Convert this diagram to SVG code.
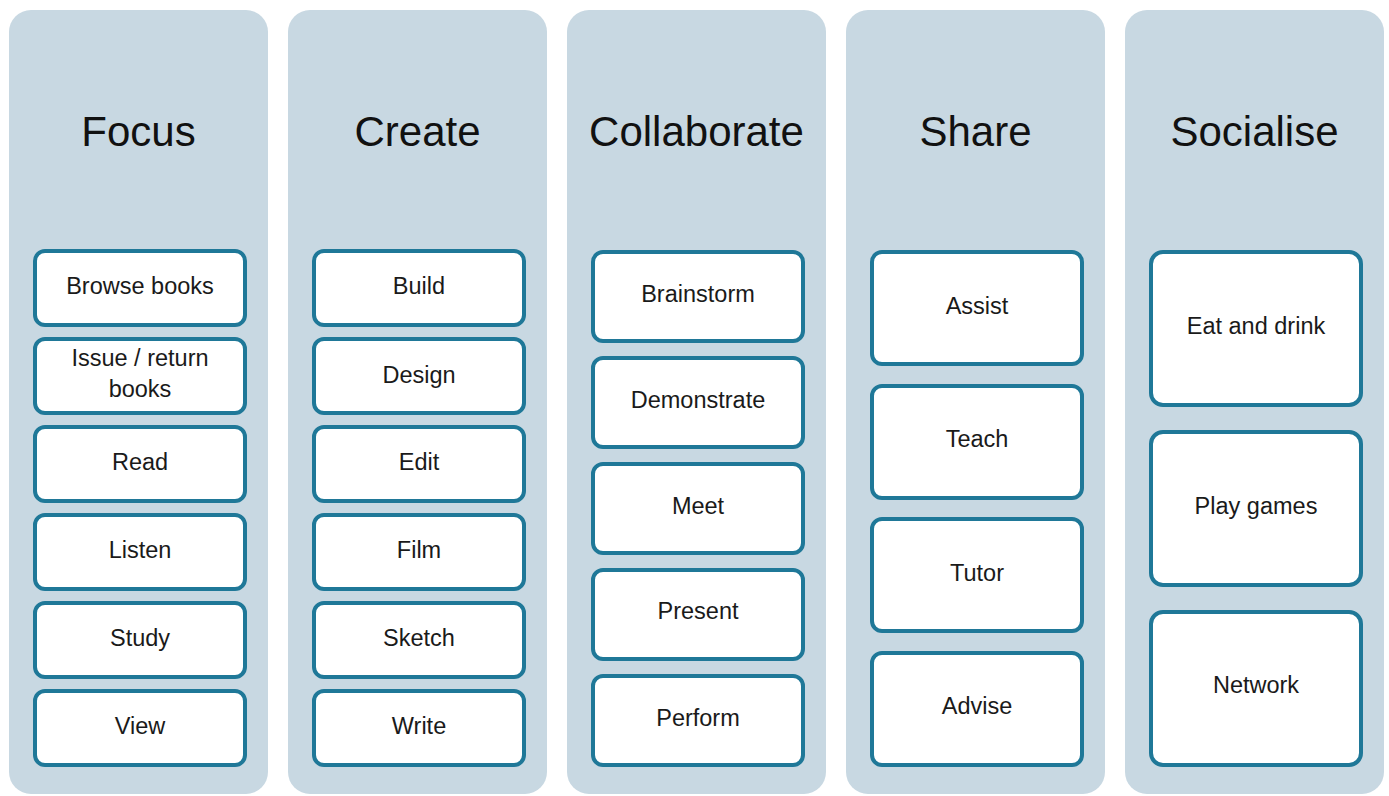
<svg xmlns="http://www.w3.org/2000/svg" width="1389" height="796" viewBox="0 0 1389 796">
<style>
.panel{fill:#c8d8e2}
.box{fill:#ffffff;stroke:#1f7898;stroke-width:4}
.h{font-family:"Liberation Sans",Arial,sans-serif;font-size:42px;fill:#111;text-anchor:middle}
.t{font-family:"Liberation Sans",Arial,sans-serif;font-size:23.5px;fill:#1a1a1a;text-anchor:middle}
</style>
<rect width="1389" height="796" fill="#ffffff"/>
<g id="col-focus">
<rect class="panel" x="9" y="10" width="259" height="784" rx="22"/>
<text class="h" x="138.5" y="146">Focus</text>
<g id="n-browse"><rect class="box" x="35" y="251" width="210" height="74" rx="10"/><text class="t" x="140" y="294">Browse books</text></g>
<g id="n-issue"><rect class="box" x="35" y="339" width="210" height="74" rx="10"/><text class="t" x="140" y="366">Issue / return</text><text class="t" x="140" y="397">books</text></g>
<g id="n-read"><rect class="box" x="35" y="427" width="210" height="74" rx="10"/><text class="t" x="140" y="470">Read</text></g>
<g id="n-listen"><rect class="box" x="35" y="515" width="210" height="74" rx="10"/><text class="t" x="140" y="558">Listen</text></g>
<g id="n-study"><rect class="box" x="35" y="603" width="210" height="74" rx="10"/><text class="t" x="140" y="646">Study</text></g>
<g id="n-view"><rect class="box" x="35" y="691" width="210" height="74" rx="10"/><text class="t" x="140" y="734">View</text></g>
</g>
<g id="col-create">
<rect class="panel" x="288" y="10" width="259" height="784" rx="22"/>
<text class="h" x="417.5" y="146">Create</text>
<g id="n-build"><rect class="box" x="314" y="251" width="210" height="74" rx="10"/><text class="t" x="419" y="294">Build</text></g>
<g id="n-design"><rect class="box" x="314" y="339" width="210" height="74" rx="10"/><text class="t" x="419" y="383">Design</text></g>
<g id="n-edit"><rect class="box" x="314" y="427" width="210" height="74" rx="10"/><text class="t" x="419" y="470">Edit</text></g>
<g id="n-film"><rect class="box" x="314" y="515" width="210" height="74" rx="10"/><text class="t" x="419" y="558">Film</text></g>
<g id="n-sketch"><rect class="box" x="314" y="603" width="210" height="74" rx="10"/><text class="t" x="419" y="646">Sketch</text></g>
<g id="n-write"><rect class="box" x="314" y="691" width="210" height="74" rx="10"/><text class="t" x="419" y="734">Write</text></g>
</g>
<g id="col-collaborate">
<rect class="panel" x="567" y="10" width="259" height="784" rx="22"/>
<text class="h" x="696.5" y="146">Collaborate</text>
<g id="n-brainstorm"><rect class="box" x="593" y="252" width="210" height="89" rx="10"/><text class="t" x="698" y="302">Brainstorm</text></g>
<g id="n-demonstrate"><rect class="box" x="593" y="358" width="210" height="89" rx="10"/><text class="t" x="698" y="408">Demonstrate</text></g>
<g id="n-meet"><rect class="box" x="593" y="464" width="210" height="89" rx="10"/><text class="t" x="698" y="514">Meet</text></g>
<g id="n-present"><rect class="box" x="593" y="570" width="210" height="89" rx="10"/><text class="t" x="698" y="619">Present</text></g>
<g id="n-perform"><rect class="box" x="593" y="676" width="210" height="89" rx="10"/><text class="t" x="698" y="726">Perform</text></g>
</g>
<g id="col-share">
<rect class="panel" x="846" y="10" width="259" height="784" rx="22"/>
<text class="h" x="975.5" y="146">Share</text>
<g id="n-assist"><rect class="box" x="872" y="252" width="210" height="112" rx="10"/><text class="t" x="977" y="314">Assist</text></g>
<g id="n-teach"><rect class="box" x="872" y="386" width="210" height="112" rx="10"/><text class="t" x="977" y="447">Teach</text></g>
<g id="n-tutor"><rect class="box" x="872" y="519" width="210" height="112" rx="10"/><text class="t" x="977" y="581">Tutor</text></g>
<g id="n-advise"><rect class="box" x="872" y="653" width="210" height="112" rx="10"/><text class="t" x="977" y="714">Advise</text></g>
</g>
<g id="col-socialise">
<rect class="panel" x="1125" y="10" width="259" height="784" rx="22"/>
<text class="h" x="1254.5" y="146">Socialise</text>
<g id="n-eat"><rect class="box" x="1151" y="252" width="210" height="153" rx="12"/><text class="t" x="1256" y="334">Eat and drink</text></g>
<g id="n-play"><rect class="box" x="1151" y="432" width="210" height="153" rx="12"/><text class="t" x="1256" y="514">Play games</text></g>
<g id="n-network"><rect class="box" x="1151" y="612" width="210" height="153" rx="12"/><text class="t" x="1256" y="693">Network</text></g>
</g>
<g id="connectors"></g>
</svg>
